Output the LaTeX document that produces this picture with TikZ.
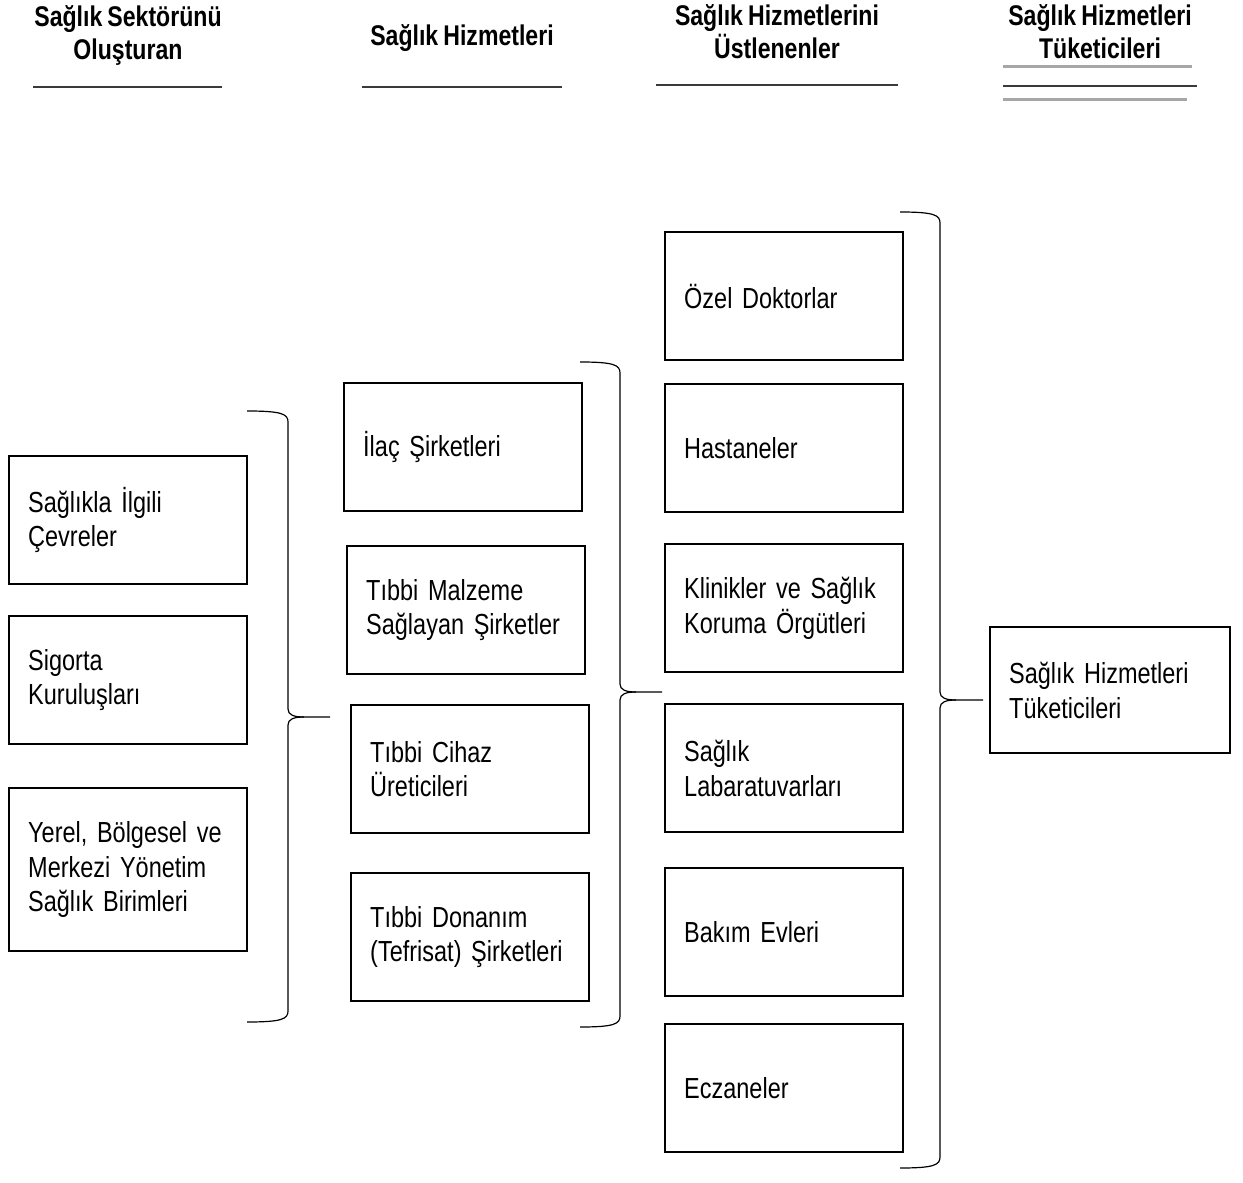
\documentclass[tikz,border=0pt]{standalone}
\usepackage{fontspec}
\setmainfont{Liberation Sans}[FakeStretch=0.81, WordSpace=0.8]
\usetikzlibrary{positioning}
\definecolor{RuleGray}{HTML}{A6A6A6}
\definecolor{RuleDark}{HTML}{3A3A3A}
\tikzset{
    % Box styles
    itembox/.style={
        rectangle,
        draw=black,
        fill=white,
        line width=2.4pt,
        anchor=north west,
        minimum height=128pt,
        text width=200pt,
        inner xsep=19pt,
        align=left,
        font=\fontsize{29}{34.5}\selectfont
    },
    % Header styles
    headtext/.style={
        align=center,
        font=\fontsize{28.5}{33}\selectfont\bfseries
    },
    headrule/.style={
        draw=RuleDark,
        line width=1.6pt
    },
    ghostrule/.style={
        draw=RuleGray,
        line width=3pt
    },
    % Brace style
    bracestyle/.style={
        draw=black,
        line width=1.2pt
    }
}
% left end x, spine x, tip x, top y, tip y, bottom y
\newcommand{\groupbrace}[6]{%
    \draw[bracestyle] (#1,#4) .. controls (#2-6,#4) and (#2,#4+3) .. (#2,#4+11) -- (#2,#5-8)
        .. controls (#2,#5-2) and (#2+6,#5) .. (#2+16,#5) -- (#3,#5);
    \draw[bracestyle] (#2+16,#5) .. controls (#2+6,#5) and (#2,#5+2) .. (#2,#5+8) -- (#2,#6-11)
        .. controls (#2,#6-3) and (#2-6,#6) .. (#1,#6);
}
\begin{document}
\begin{tikzpicture}[x=1pt, y=-1pt]
    \useasboundingbox (0,0) rectangle (1243,1183);

    % Headers
    \node[headtext] (h1) at (128,35) {Sağlık Sektörünü\\Oluşturan};
    \node[headtext] (h2) at (462,38) {Sağlık Hizmetleri};
    \node[headtext] (h3) at (777,32) {Sağlık Hizmetlerini\\Üstlenenler};
    \node[headtext] (h4) at (1100,32) {Sağlık Hizmetleri\\Tüketicileri};

    \draw[headrule] (33,87) -- (222,87);
    \draw[headrule] (362,87) -- (562,87);
    \draw[headrule] (656,85) -- (898,85);
    \draw[ghostrule] (1003,66) -- (1192,66);
    \draw[headrule] (1003,86) -- (1197,86);
    \draw[ghostrule] (1003,99) -- (1187,99);

    % Column 1
    \node[itembox] (env) at (8,455) {Sağlıkla İlgili\\Çevreler};
    \node[itembox] (insur) at (8,615) {Sigorta\\Kuruluşları};
    \node[itembox,minimum height=163pt] (admin) at (8,787) {Yerel, Bölgesel ve\\Merkezi Yönetim\\Sağlık Birimleri};

    % Column 2
    \node[itembox] (pharma) at (343,382) {İlaç Şirketleri};
    \node[itembox] (supply) at (346,545) {Tıbbi Malzeme\\Sağlayan Şirketler};
    \node[itembox] (device) at (350,704) {Tıbbi Cihaz\\Üreticileri};
    \node[itembox] (equip) at (350,872) {Tıbbi Donanım\\(Tefrisat) Şirketleri};

    % Column 3
    \node[itembox] (doctors) at (664,231) {Özel Doktorlar};
    \node[itembox] (hosp) at (664,383) {Hastaneler};
    \node[itembox] (clinic) at (664,543) {Klinikler ve Sağlık\\Koruma Örgütleri};
    \node[itembox] (labs) at (664,703) {Sağlık\\Labaratuvarları};
    \node[itembox] (care) at (664,867) {Bakım Evleri};
    \node[itembox] (pharmacy) at (664,1023) {Eczaneler};

    % Column 4
    \node[itembox,minimum height=126pt,text width=202pt] (consumer) at (989,626) {Sağlık Hizmetleri\\Tüketicileri};

    % Braces
    \groupbrace{247}{288}{330}{411}{717}{1022}
    \groupbrace{580}{620}{662}{362}{692}{1027}
    \groupbrace{900}{940}{983}{212}{700}{1168}
\end{tikzpicture}
\end{document}
